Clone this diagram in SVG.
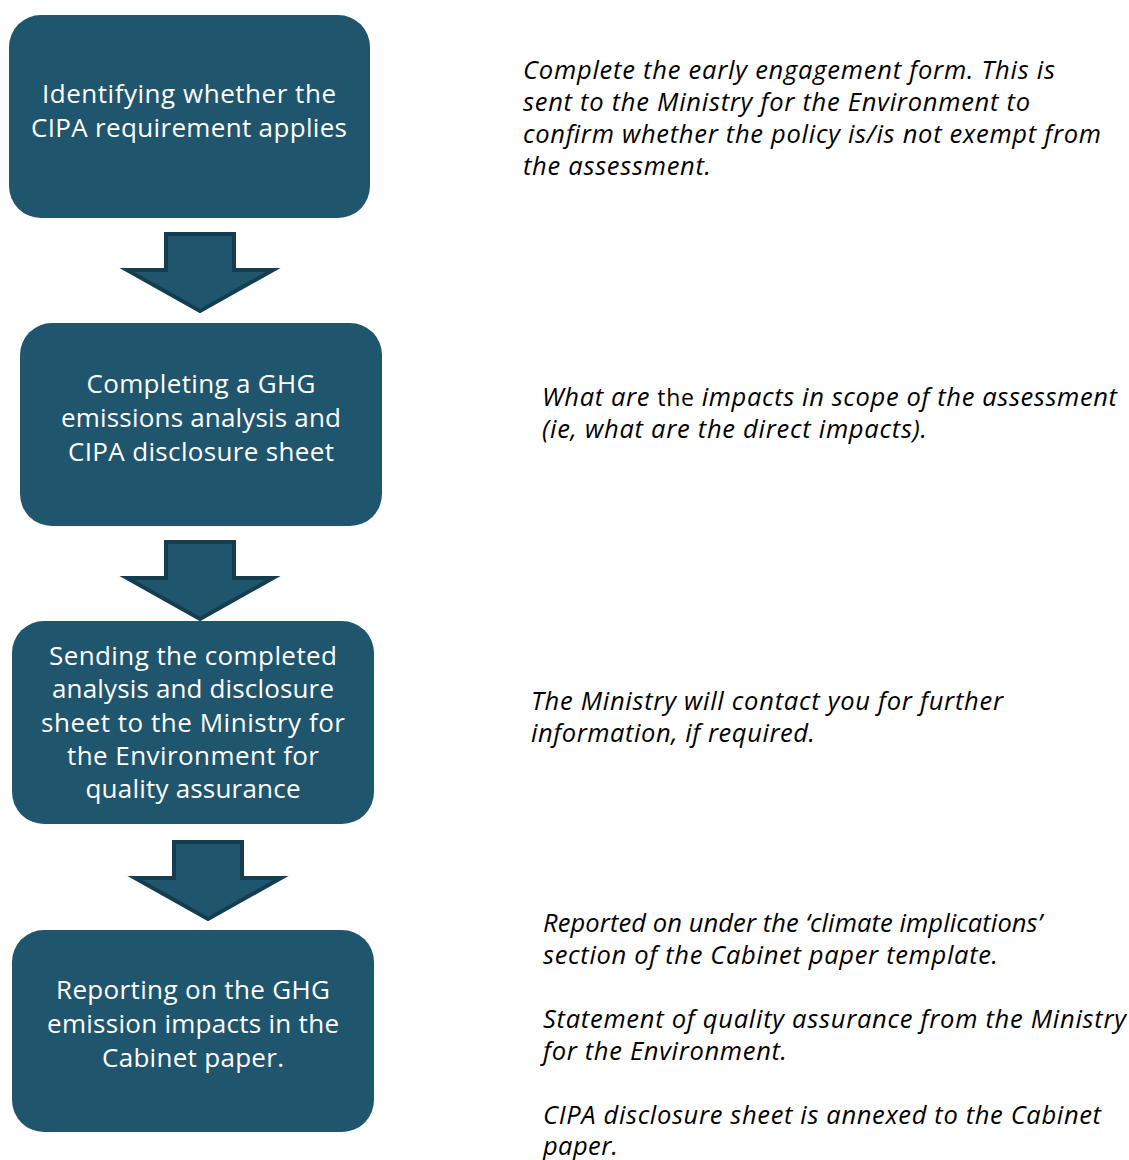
<svg xmlns="http://www.w3.org/2000/svg" width="1129" height="1160" viewBox="0 0 1129 1160">
<style>
.box{fill:#1F566E;}
.arrow{fill:#1F566E;stroke:#143D50;stroke-width:4;stroke-linejoin:miter;}
.bt{font-family:"Open Sans","Liberation Sans",sans-serif;font-size:26px;fill:#FFFFFF;text-anchor:middle;}
.nt{font-family:"Open Sans","Liberation Sans",sans-serif;font-size:25.5px;font-style:italic;fill:#000000;}
.up{font-style:normal;font-size:23px;}
</style>
<rect width="1129" height="1160" fill="#FFFFFF"/>
<g id="connectors">
<path class="arrow" d="M166,234 H234 V270 H273 L200,311 L127,270 H166 Z"/>
<path class="arrow" d="M166,542 H234 V578 H273 L200,619 L127,578 H166 Z"/>
<path class="arrow" d="M174,842 H242 V878 H281 L208,919 L135,878 H174 Z"/>
</g>
<g id="node1">
<rect class="box" x="9" y="15" width="361" height="203" rx="32"/>
<text class="bt" x="189" y="103" textLength="294">Identifying whether the</text>
<text class="bt" x="189" y="137" textLength="316">CIPA requirement applies</text>
</g>
<g id="node2">
<rect class="box" x="20" y="323" width="362" height="203" rx="32"/>
<text class="bt" x="201" y="393" textLength="229">Completing a GHG</text>
<text class="bt" x="201" y="427" textLength="280">emissions analysis and</text>
<text class="bt" x="201" y="461" textLength="266">CIPA disclosure sheet</text>
</g>
<g id="node3">
<rect class="box" x="12" y="621" width="362" height="203" rx="32"/>
<text class="bt" x="193" y="665" textLength="288">Sending the completed</text>
<text class="bt" x="193" y="698" textLength="282">analysis and disclosure</text>
<text class="bt" x="193" y="732" textLength="304">sheet to the Ministry for</text>
<text class="bt" x="193" y="765" textLength="252">the Environment for</text>
<text class="bt" x="193" y="798" textLength="215">quality assurance</text>
</g>
<g id="node4">
<rect class="box" x="12" y="930" width="362" height="202" rx="32"/>
<text class="bt" x="193" y="999" textLength="274">Reporting on the GHG</text>
<text class="bt" x="193" y="1033" textLength="292">emission impacts in the</text>
<text class="bt" x="193" y="1067" textLength="182">Cabinet paper.</text>
</g>
<g id="notes">
<text class="nt" x="523" y="79" textLength="532">Complete the early engagement form. This is</text>
<text class="nt" x="523" y="111" textLength="507">sent to the Ministry for the Environment to</text>
<text class="nt" x="523" y="143" textLength="578">confirm whether the policy is/is not exempt from</text>
<text class="nt" x="523" y="175" textLength="188">the assessment.</text>
<text class="nt" x="542" y="406" textLength="575">What are <tspan class="up">the</tspan> impacts in scope of the assessment</text>
<text class="nt" x="542" y="438" textLength="385">(ie, what are the direct impacts).</text>
<text class="nt" x="531" y="710" textLength="472">The Ministry will contact you for further</text>
<text class="nt" x="531" y="742" textLength="284">information, if required.</text>
<text class="nt" x="543" y="932" textLength="499">Reported on under the ‘climate implications’</text>
<text class="nt" x="543" y="964" textLength="455">section of the Cabinet paper template.</text>
<text class="nt" x="543" y="1028" textLength="583">Statement of quality assurance from the Ministry</text>
<text class="nt" x="543" y="1060" textLength="244">for the Environment.</text>
<text class="nt" x="543" y="1124" textLength="558">CIPA disclosure sheet is annexed to the Cabinet</text>
<text class="nt" x="543" y="1155" textLength="75">paper.</text>
</g>
</svg>
